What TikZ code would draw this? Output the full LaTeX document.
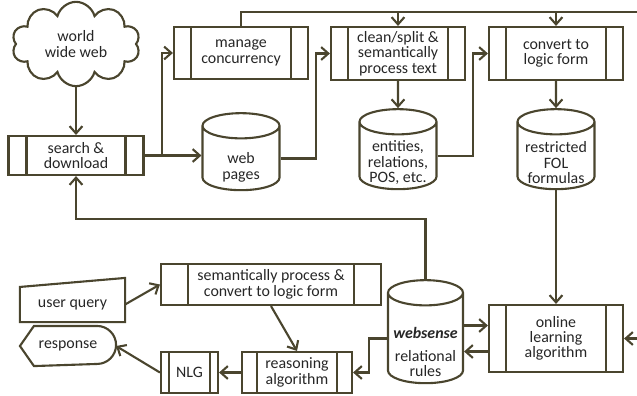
\documentclass[tikz,border=0pt]{standalone}
\usepackage{fontspec}
\setmainfont{Carlito}
\usetikzlibrary{arrows.meta,shapes.geometric,shapes.symbols}
\definecolor{ink}{RGB}{74,69,46}
\tikzset{
  procbox/.style={draw, rectangle, align=center, minimum width=3.35cm, minimum height=1.3cm, inner sep=0pt,
    path picture={\draw ([xshift=#1]path picture bounding box.north west) -- ([xshift=#1]path picture bounding box.south west);
      \draw ([xshift=-#1]path picture bounding box.north east) -- ([xshift=-#1]path picture bounding box.south east);}},
  procbox/.default=0.425cm,
  store/.style={draw, cylinder, shape border rotate=90, aspect=0.42, minimum width=1.925cm, minimum height=2cm, inner sep=0pt},
  storetext/.style={align=center, inner sep=0pt, yshift=-#1},
  storetext/.default=0.25cm,
  arr/.style={-{Straight Barb[length=1.8mm,width=3.2mm]}},
}
\begin{document}
\begin{tikzpicture}[x=0.025cm, y=-0.025cm, color=ink, line width=1.5pt,
  every node/.style={font=\fontsize{11.3}{10.9}\selectfont, text=black!85}]
	\useasboundingbox (0,0) rectangle (637,395);
	\node[cloud, draw, cloud puffs=10, aspect=1.6, minimum width=3.2cm, minimum height=2cm, align=center] (www) at (76,44) {world\\wide web};
	\node[procbox=0.45cm, minimum width=3.375cm, minimum height=0.975cm] (search) at (76,155.5) {search \&\\download};
	\node[procbox] (manage) at (241,53) {manage\\concurrency};
	\node[procbox, minimum height=1.325cm] (clean) at (398,53.5) {clean/split \&\\semantically\\process text};
	\node[procbox, minimum height=1.325cm] (convert) at (556,53.5) {convert to\\logic form};
	\node[store, minimum height=1.925cm, label={[storetext=0.22cm]center:web\\pages}] (pages) at (241,158.5) {\hspace*{1.5cm}};
	\node[store, label={[storetext=0.17cm]center:{entities,\\relations,\\POS, etc.}}] (entities) at (398,156) {\hspace*{1.5cm}};
	\node[store, label={[storetext=0.17cm]center:restricted\\FOL\\formulas}] (fol) at (556,156) {\hspace*{1.5cm}};
	\node[procbox, minimum height=1.675cm] (online) at (556,338.5) {online\\learning\\algorithm};
	\node[store, minimum width=1.875cm, minimum height=2.575cm, label={[storetext=0.34cm]center:\textbf{\textit{websense}}\\[5pt]relational\\rules}] (websense) at (425.5,338.5) {\hspace*{1.5cm}};
	\node[procbox=0.675cm, minimum width=5.5cm, minimum height=1.025cm] (semproc) at (271,284.5) {semantically process \&\\convert to logic form};
	\node[procbox=0.375cm, minimum width=2.75cm, minimum height=1.025cm] (reason) at (297,372.5) {reasoning\\algorithm};
	\node[procbox=0.19cm, minimum width=1.425cm, minimum height=1.025cm] (nlg) at (189.5,372.5) {NLG};
	\node[minimum width=2.575cm, minimum height=0.825cm] (query) at (72.5,304.5) {user query};
	\draw (query.south west) -- (query.north west) -- ([yshift=0.225cm]query.north east) -- (query.south east) -- cycle;
	\node[minimum width=2.35cm, minimum height=0.95cm] (resp) at (68,346) {response};
	\draw (resp.west) -- ([xshift=0.35cm]resp.north west) -- ([xshift=-0.475cm]resp.north east) arc[start angle=90, end angle=-90, radius=0.475cm] -- ([xshift=0.35cm]resp.south west) -- cycle;
	\draw[arr] (www.south) -- (search.north);
	\draw[arr] (search.east) -- (search.east -| pages.west);
	\draw[arr] (search.east) -- ++(17,0) |- (manage.west);
	\draw[arr] (pages.east) -- ++(35,0) |- (clean.west);
	\draw[arr] (clean.south) -- (entities.north);
	\draw[arr] (entities.east) -- ++(35,0) |- (convert.west);
	\draw[arr] (convert.south) -- (fol.north);
	\draw[arr] (fol.south) -- (online.north);
	\coordinate (topright) at (637,12);
	\draw (manage.north) |- (topright);
	\draw[arr] (clean.north |- topright) -- (clean.north);
	\draw[arr] (convert.north |- topright) -- (convert.north);
	\coordinate (onlinein) at (637,338.5);
	\draw[arr] (onlinein) -- (online.east);
	\draw[arr] ([yshift=0.325cm]websense.east) -- ([yshift=0.325cm]online.west);
	\draw[arr] ([yshift=-0.325cm]online.west) -- ([yshift=-0.325cm]websense.east);
	\draw[arr] (websense.north) -- ++(0,-60) -| (search.south);
	\draw[arr] (websense.west) -- ++(-18,0) |- (reason.east);
	\draw[arr] (semproc.south) -- (reason.north);
	\draw[arr] (query.east) -- (semproc.west);
	\draw[arr] (reason.west) -- (nlg.east);
	\draw[arr] (nlg.west) -- (resp.east);
\end{tikzpicture}
\end{document}
